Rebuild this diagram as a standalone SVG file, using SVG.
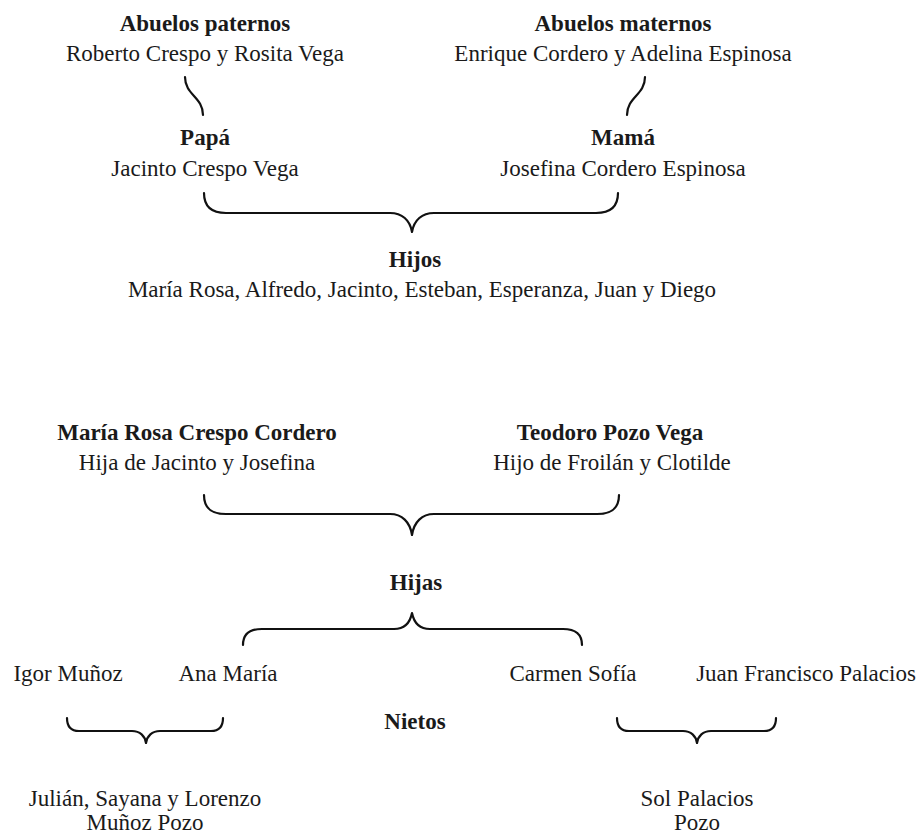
<svg xmlns="http://www.w3.org/2000/svg" width="919" height="837" viewBox="0 0 919 837">
<style>
text{font-family:"Liberation Serif","DejaVu Serif",serif;font-size:23px;fill:#1a1a1a;text-anchor:middle}
.b{font-weight:bold}
.c{fill:none;stroke:#111;stroke-width:2.2;stroke-linecap:round;stroke-linejoin:round}
</style>
<rect width="919" height="837" fill="#ffffff"/>
<g id="connectors">
<path class="c" d="M185,77 C185,95 203,97 203,115"/>
<path class="c" d="M645,77 C645,95 627,97 627,115"/>
<path class="c" d="M204,193 C204,207 212,213 226,213 L390,213 C402,213 410,220 412,232 C414,220 422,213 434,213 L596,213 C610,213 618,207 618,193"/>
<path class="c" d="M204,495 C204,509 212,514 226,514 L390,514 C402,514 410,522 412,535 C414,522 422,514 434,514 L597,514 C611,514 619,509 619,495"/>
<path class="c" d="M243,645 C243,634 250,629 262,629 L394,629 C404,629 410,623 412,613 C414,623 420,629 430,629 L563,629 C575,629 582,634 582,645"/>
<path class="c" d="M67,718 C67,727 71,731 79,731 L132,731 C140,731 145,736 146,743 C147,736 152,731 160,731 L211,731 C219,731 223,727 223,718"/>
<path class="c" d="M617,718 C617,727 621,731 629,731 L683,731 C691,731 696,736 697,743 C698,736 703,731 711,731 L764,731 C772,731 776,727 776,718"/>
</g>
<g id="abuelos-paternos">
<text class="b" x="205" y="31">Abuelos paternos</text>
<text x="205" y="61">Roberto Crespo y Rosita Vega</text>
</g>
<g id="abuelos-maternos">
<text class="b" x="623" y="31">Abuelos maternos</text>
<text x="623" y="61">Enrique Cordero y Adelina Espinosa</text>
</g>
<g id="papa">
<text class="b" x="205" y="145">Papá</text>
<text x="205" y="176">Jacinto Crespo Vega</text>
</g>
<g id="mama">
<text class="b" x="623" y="145">Mamá</text>
<text x="623" y="176">Josefina Cordero Espinosa</text>
</g>
<g id="hijos">
<text class="b" x="415" y="267">Hijos</text>
<text x="422" y="297">María Rosa, Alfredo, Jacinto, Esteban, Esperanza, Juan y Diego</text>
</g>
<g id="maria-rosa">
<text class="b" x="197" y="440">María Rosa Crespo Cordero</text>
<text x="197" y="470">Hija de Jacinto y Josefina</text>
</g>
<g id="teodoro">
<text class="b" x="610" y="440">Teodoro Pozo Vega</text>
<text x="612" y="470">Hijo de Froilán y Clotilde</text>
</g>
<g id="hijas">
<text class="b" x="416" y="590">Hijas</text>
</g>
<g id="igor">
<text x="68" y="681">Igor Muñoz</text>
</g>
<g id="ana-maria">
<text x="228" y="681">Ana María</text>
</g>
<g id="carmen-sofia">
<text x="573" y="681">Carmen Sofía</text>
</g>
<g id="juan-francisco">
<text x="806" y="681">Juan Francisco Palacios</text>
</g>
<g id="nietos-label">
<text class="b" x="415" y="729">Nietos</text>
</g>
<g id="nietos-munoz">
<text x="145" y="806">Julián, Sayana y Lorenzo</text>
<text x="145" y="830">Muñoz Pozo</text>
</g>
<g id="nietos-palacios">
<text x="697" y="806">Sol Palacios</text>
<text x="697" y="830">Pozo</text>
</g>
</svg>
